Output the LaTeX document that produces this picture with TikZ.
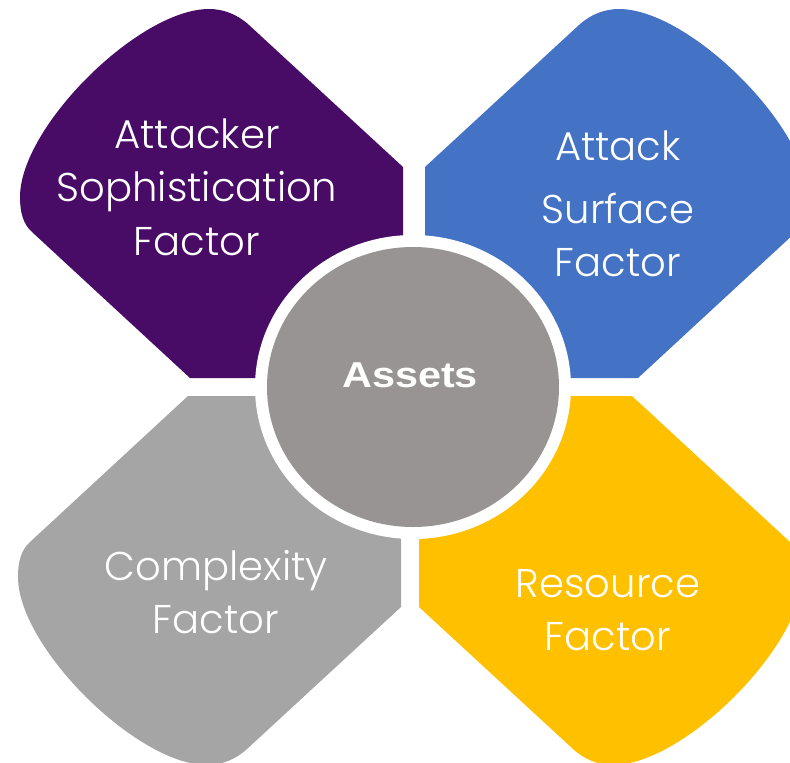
\documentclass[tikz,border=0pt]{standalone}
\usepackage{fontspec}
\newfontfamily\petalfont{Poppins Light}
\newfontfamily\assetsfont[FakeStretch=1.15]{Liberation Sans}
\definecolor{cpurple}{RGB}{73,12,102}
\definecolor{cblue}{RGB}{68,114,196}
\definecolor{cgrey}{RGB}{165,165,165}
\definecolor{cyellow}{RGB}{255,192,0}
\definecolor{ccenter}{RGB}{152,148,147}
\begin{document}
\begin{tikzpicture}[x=0.01in,y=-0.01in,
  petaltext/.style={text=white, align=center, inner sep=0pt, font=\petalfont\fontsize{29}{38.5}\selectfont},
  centertext/.style={text=white, inner sep=0pt, font=\assetsfont\bfseries\fontsize{26}{30}\selectfont}]
\useasboundingbox (0,0) rectangle (790,763);
\begin{scope}
\clip (0,0) rectangle (790,763);
\foreach \px/\py/\sx/\sy/\col in {403/378/1/1/cpurple, 425/378/-1/1/cblue, 401/396/1/-1/cgrey, 419/396/-1/-1/cyellow}{
  \fill[\col, shift={(\px,\py)}, xscale=\sx, yscale=\sy]
    (0,0) -- (0,-211) -- (-154,-353)
    .. controls (-166,-364) and (-180,-369) .. (-194,-369)
    .. controls (-264,-369) and (-383,-251) .. (-383,-181)
    .. controls (-383,-166) and (-380,-154) .. (-371,-146)
    -- (-213,0) -- cycle;
}
\end{scope}
\fill[white] (413,387) ellipse [x radius=158, y radius=152];
\fill[ccenter] (413,387) ellipse [x radius=146, y radius=140];
\node[centertext] (assets) at (410,375) {Assets};
\node[petaltext] (attacker) at (197,187) {Attacker\\Sophistication\\Factor};
\node[petaltext] (surface) at (618,204) {Attack\\[7pt]Surface\\Factor};
\node[petaltext] (complexity) at (216,592) {Complexity\\Factor};
\node[petaltext] (resource) at (608,610) {Resource\\Factor};
\end{tikzpicture}
\end{document}
